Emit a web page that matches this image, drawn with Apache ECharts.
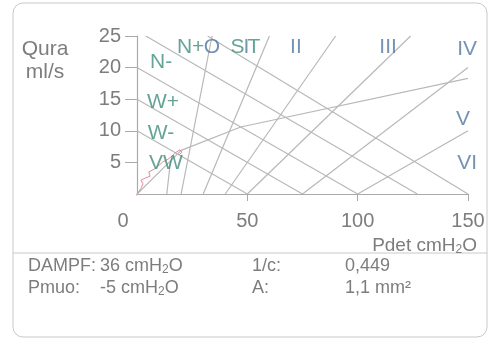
<!DOCTYPE html>
<html>
<head>
<meta charset="utf-8">
<script src="https://cdn.jsdelivr.net/npm/echarts@6/dist/echarts.min.js"></script>
<style>
  html, body { margin: 0; padding: 0; background: #fff; }
  #chart { width: 489px; height: 340px; }
</style>
</head>
<body>
<div id="chart"></div>
<script>
// axis ticks
const xTicks = [0, 50, 100, 150];
const yTicks = [5, 10, 15, 20, 25];

// contractility boundaries (VW .. ST), each [start, end] in [Pdet, Qura]
const strengthLines = [
  [[0, 10], [50, 0]],
  [[0, 15], [75, 0]],
  [[0, 20], [100, 0]],
  [[4, 25], [127, 0]],
  [[32, 25], [150, 0]]
];

// obstruction grade boundaries (0 .. VI)
const gradeLines = [
  [[13.5, 0], [15.2, 5.3]],
  [[20, 0], [34, 25]],
  [[30, 0], [60, 25]],
  [[40, 0], [90, 25]],
  [[50, 0], [124, 25]],
  [[75, 0], [150, 20]],
  [[100, 0], [150, 10]]
];

// passive urethral resistance line
const purrLine = [[-4, -1.4], [20, 6.9], [47, 10.6], [150, 18.3]];

// measured pressure-flow trace
const flowCurve = [
  [0.5, 0.2], [1.8, 0.9], [2.7, 1.6], [1.8, 2.2], [3.6, 2.5], [5.9, 2.8],
  [5.4, 3.5], [8.2, 4.0], [9.5, 4.4], [11.8, 5.1], [14, 5.5], [15.9, 6.0],
  [17.7, 6.6], [19.5, 7.0], [20.4, 6.6], [19, 6.2]
];

// zone labels: text, Pdet, Qura, kind
const zoneLabels = [
  ['N-', 10.9, 20.9, 'strength'],
  ['W+', 11.8, 14.6, 'strength'],
  ['W-', 10.9, 9.6, 'strength'],
  ['VW', 13.1, 4.9, 'strength'],
  ['N+', 24.3, 23.3, 'strength'],
  ['O', 34, 23.3, 'grade'],
  ['S', 45.5, 23.3, 'strength'],
  ['T', 53, 23.3, 'strength'],
  ['I', 49.6, 23.3, 'grade'],
  ['II', 72, 23.3, 'grade'],
  ['III', 113.8, 23.3, 'grade'],
  ['IV', 149.6, 22.9, 'grade'],
  ['V', 147.7, 11.9, 'grade'],
  ['VI', 149.6, 4.9, 'grade']
];

// result table
const resultRows = [
  ['DAMPF:', '36 cmH|2|O', '1/c:', '0,449'],
  ['Pmuo:', '-5 cmH|2|O', 'A:', '1,1 mm²']
];

const font = "'Liberation Sans', Arial, sans-serif";
const textGray = '#7d7d7d';
const lineGray = '#b8b8b8';
const colors = { strength: '#3f8c7c', grade: '#51779f' };

function richUnit(s) {
  // 'cmH|2|O' -> subscript middle part
  const p = s.split('|');
  if (p.length < 3) return '{a|' + s + '}';
  return '{a|' + p[0] + '}{s|' + p[1] + '}{a|' + p[2] + '}';
}
function unitRich(size) {
  return {
    a: { fontSize: size, fontFamily: font, fill: textGray },
    s: { fontSize: 12, fontFamily: font, fill: textGray, verticalAlign: 'bottom', padding: [8, 0, 0, 0] }
  };
}

const chart = echarts.init(document.getElementById('chart'));

const series = [];
strengthLines.concat(gradeLines).forEach(seg => {
  series.push({
    type: 'line', data: seg, symbol: 'none', silent: true,
    lineStyle: { color: lineGray, width: 1.2 }
  });
});
series.push({
  type: 'line', data: purrLine, symbol: 'none', silent: true, clip: false,
  lineStyle: { color: lineGray, width: 1.2 }
});
series.push({
  type: 'line', data: flowCurve, symbol: 'none', silent: true,
  lineStyle: { color: '#e48a98', width: 1 }
});
series.push({
  type: 'scatter', symbolSize: 0, silent: true, z: 5,
  data: zoneLabels.map(d => ({
    value: [d[1], d[2]], name: d[0],
    label: { color: colors[d[3]] }
  })),
  label: {
    show: true, position: 'inside', formatter: '{b}',
    fontSize: 21, fontFamily: font
  }
});

const graphics = [
  {
    type: 'rect', shape: { x: 13, y: 3, width: 474, height: 334, r: 10 },
    style: { fill: 'none', stroke: '#c9c9c9', lineWidth: 1 }
  },
  {
    type: 'line', shape: { x1: 13, y1: 253, x2: 487, y2: 253 },
    style: { stroke: '#c9c9c9', lineWidth: 1 }
  },
  {
    type: 'text', x: 45, y: 61,
    style: {
      text: 'Qura\nml/s', font: '21px ' + font, fill: textGray,
      align: 'center', verticalAlign: 'middle', lineHeight: 23
    }
  },
  {
    type: 'text', x: 477, y: 246,
    style: { text: richUnit('Pdet cmH|2|O'), rich: unitRich(19), align: 'right', verticalAlign: 'middle' }
  }
];
const colX = [28, 100, 252, 345];
resultRows.forEach((row, i) => {
  row.forEach((cell, j) => {
    graphics.push({
      type: 'text', x: colX[j], y: 266 + i * 22,
      style: { text: richUnit(cell), rich: unitRich(18), align: 'left', verticalAlign: 'middle' }
    });
  });
});

chart.setOption({
  animation: false,
  backgroundColor: '#fff',
  grid: { left: 137, right: 21, top: 36, bottom: 146 },
  xAxis: {
    type: 'value', min: 0, max: 150, interval: 50,
    splitLine: { show: false },
    axisLine: { lineStyle: { color: '#aaaaaa', width: 1.2 } },
    axisTick: { customValues: xTicks.slice(1), length: 7, lineStyle: { color: '#aaaaaa' } },
    axisLabel: {
      customValues: xTicks, margin: 17, color: textGray, fontSize: 20, fontFamily: font,
      formatter: v => v === 0 ? '{z|0}' : String(v),
      rich: { z: { padding: [0, 28, 0, 0], fontSize: 20, fontFamily: font, color: textGray } }
    }
  },
  yAxis: {
    type: 'value', min: 0, max: 25, interval: 5,
    splitLine: { show: false },
    axisLine: { lineStyle: { color: '#aaaaaa', width: 1.2 } },
    axisTick: { customValues: yTicks, length: 12, lineStyle: { color: '#aaaaaa' } },
    axisLabel: {
      customValues: yTicks, margin: 16, color: textGray, fontSize: 20, fontFamily: font
    }
  },
  series: series,
  graphic: graphics
});
</script>
</body>
</html>
